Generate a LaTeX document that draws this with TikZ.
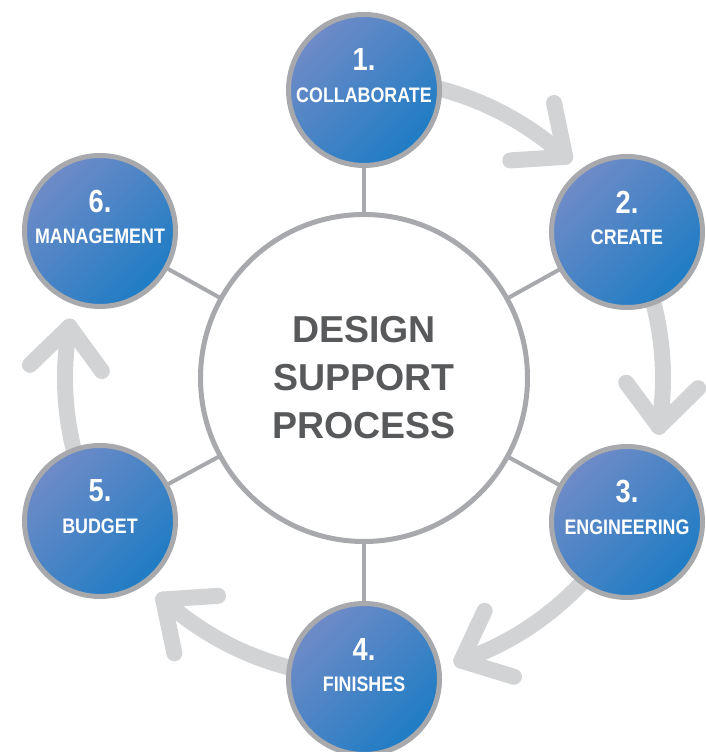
\documentclass[tikz,border=0pt]{standalone}
\usepackage{fontspec}
\setmainfont{Liberation Sans}
\newfontfamily\condfont[FakeStretch=0.85]{Liberation Sans}
\usetikzlibrary{calc}
\definecolor{ringgray}{HTML}{A7A9AC}
\definecolor{arrowgray}{HTML}{D1D3D4}
\definecolor{textgray}{HTML}{58595B}
\definecolor{bluelight}{HTML}{6F8BC7}
\definecolor{bluedark}{HTML}{1E7CC4}
\begin{document}
\begin{tikzpicture}[x=1pt,y=1pt,
  stepcircle/.style={circle, draw=ringgray, line width=5pt, minimum size=151pt, inner sep=0pt, top color=bluelight, bottom color=bluedark, shading angle=45},
  hub/.style={circle, draw=ringgray, line width=5pt, fill=white, minimum size=327pt, inner sep=0pt},
  spoke/.style={draw=ringgray, line width=4pt},
  flow/.style={draw=arrowgray, line width=16pt, line cap=round, line join=round},
  numtext/.style={text=white, font=\condfont\bfseries\fontsize{32}{32}\selectfont, inner sep=0pt},
  labtext/.style={text=white, font=\condfont\bfseries\fontsize{21}{21}\selectfont, inner sep=0pt},
  hubtext/.style={text=textgray, font=\bfseries\fontsize{37.5}{48}\selectfont, align=center, inner sep=0pt}]
\useasboundingbox (0,0) rectangle (706,752);
\coordinate (O) at (364,374);
\coordinate (c1) at (364,662);
\coordinate (c2) at (627,520);
\coordinate (c3) at (627,230);
\coordinate (c4) at (364,73);
\coordinate (c5) at (100,231);
\coordinate (c6) at (100,521);
% spokes
\foreach \i in {1,...,6} { \draw[spoke] (O) -- (c\i); }
% flow arrows
\coordinate (t1) at ($(O)+(47.7:299)$);
\coordinate (t2) at ($(O)+(-9.4:299)$);
\coordinate (t3) at ($(O)+(-71:299)$);
\coordinate (t4) at ($(O)+(-132.2:299)$);
\coordinate (t5) at ($(O)+(170.1:299)$);
\draw[flow] ($(O)+(90:299)$) arc[start angle=90, end angle=47.7, radius=299pt];
\draw[flow] ($(t1)+(183.7:55)$) -- (t1) -- ($(t1)+(101.7:55)$);
\draw[flow] ($(O)+(29:299)$) arc[start angle=29, end angle=-9.4, radius=299pt];
\draw[flow] ($(t2)+(126.6:55)$) -- (t2) -- ($(t2)+(44.6:55)$);
\draw[flow] ($(O)+(-28.7:299)$) arc[start angle=-28.7, end angle=-71, radius=299pt];
\draw[flow] ($(t3)+(65:55)$) -- (t3) -- ($(t3)+(-17:55)$);
\draw[flow] ($(O)+(-90:299)$) arc[start angle=-90, end angle=-132.2, radius=299pt];
\draw[flow] ($(t4)+(3.8:55)$) -- (t4) -- ($(t4)+(-78.2:55)$);
\draw[flow] ($(O)+(-151.6:299)$) arc[start angle=-151.6, end angle=-189.9, radius=299pt];
\draw[flow] ($(t5)+(224.1:55)$) -- (t5) -- ($(t5)+(306.1:55)$);
% hub
\node[hub] (hubc) at (O) {};
\node[hubtext] (hubt) at (O) {DESIGN\\SUPPORT\\PROCESS};
% step circles
\node[stepcircle] (s1) at (c1) {};
\node[stepcircle] (s2) at (c2) {};
\node[stepcircle] (s3) at (c3) {};
\node[stepcircle] (s4) at (c4) {};
\node[stepcircle] (s5) at (c5) {};
\node[stepcircle] (s6) at (c6) {};
\node[numtext] (n1) at ($(c1)+(0,30)$) {1.};
\node[labtext] (l1) at ($(c1)+(0,-5)$) {COLLABORATE};
\node[numtext] (n2) at ($(c2)+(0,30)$) {2.};
\node[labtext] (l2) at ($(c2)+(0,-5)$) {CREATE};
\node[numtext] (n3) at ($(c3)+(0,30)$) {3.};
\node[labtext] (l3) at ($(c3)+(0,-5)$) {ENGINEERING};
\node[numtext] (n4) at ($(c4)+(0,30)$) {4.};
\node[labtext] (l4) at ($(c4)+(0,-5)$) {FINISHES};
\node[numtext] (n5) at ($(c5)+(0,30)$) {5.};
\node[labtext] (l5) at ($(c5)+(0,-5)$) {BUDGET};
\node[numtext] (n6) at ($(c6)+(0,30)$) {6.};
\node[labtext] (l6) at ($(c6)+(0,-5)$) {MANAGEMENT};
\end{tikzpicture}
\end{document}
